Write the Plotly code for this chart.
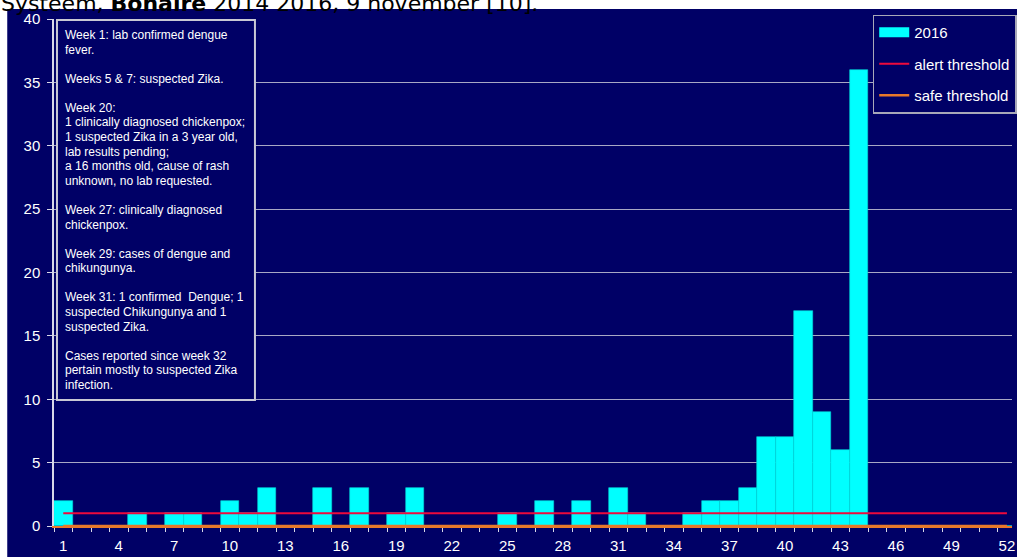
import plotly.graph_objects as go

# ---------------- data ----------------
weeks = [1, 2, 3, 4, 5, 6, 7, 8, 9, 10, 11, 12, 13, 14, 15, 16, 17, 18, 19, 20,
         21, 22, 23, 24, 25, 26, 27, 28, 29, 30, 31, 32, 33, 34, 35, 36, 37, 38, 39, 40,
         41, 42, 43, 44, 45, 46, 47, 48, 49, 50, 51, 52]
cases_2016 = [2, 0, 0, 0, 1, 0, 1, 1, 0, 2,
              1, 3, 0, 0, 3, 0, 3, 0, 1, 3,
              0, 0, 0, 0, 1, 0, 2, 0, 2, 0,
              3, 1, 0, 0, 1, 2, 2, 3, 7, 7,
              17, 9, 6, 36, 0, 0, 0, 0, 0, 0,
              0, 0]
alert_threshold = [1, 1, 1, 1, 1, 1, 1, 1, 1, 1, 1, 1, 1, 1, 1, 1, 1, 1, 1, 1,
                   1, 1, 1, 1, 1, 1, 1, 1, 1, 1, 1, 1, 1, 1, 1, 1, 1, 1, 1, 1,
                   1, 1, 1, 1, 1, 1, 1, 1, 1, 1, 1, 1]
safe_threshold = [0, 0, 0, 0, 0, 0, 0, 0, 0, 0, 0, 0, 0, 0, 0, 0, 0, 0, 0, 0,
                  0, 0, 0, 0, 0, 0, 0, 0, 0, 0, 0, 0, 0, 0, 0, 0, 0, 0, 0, 0,
                  0, 0, 0, 0, 0, 0, 0, 0, 0, 0, 0, 0]
y_ticks = [0, 5, 10, 15, 20, 25, 30, 35, 40]
x_tick_labels = [1, 4, 7, 10, 13, 16, 19, 22, 25, 28, 31, 34, 37, 40, 43, 46, 49, 52]
series_names = ["2016", "alert threshold", "safe threshold"]
page_title_plain = "Systeem, "
page_title_bold = "Bonaire"
page_title_rest = " 2014 2016, 9 november [10]."
note_lines = [
    "Week 1: lab confirmed dengue",
    "fever.",
    "",
    "Weeks 5 &amp; 7: suspected Zika.",
    "",
    "Week 20:",
    "1 clinically diagnosed chickenpox;",
    "1 suspected Zika in a 3 year old,",
    "lab results pending;",
    "a 16 months old, cause of rash",
    "unknown, no lab requested.",
    "",
    "Week 27: clinically diagnosed",
    "chickenpox.",
    "",
    "Week 29: cases of dengue and",
    "chikungunya.",
    "",
    "Week 31: 1 confirmed &nbsp;Dengue; 1",
    "suspected Chikungunya and 1",
    "suspected Zika.",
    "",
    "Cases reported since week 32",
    "pertain mostly to suspected Zika",
    "infection.",
]

# ---------------- geometry helpers ----------------
W, H = 1017, 557
PL, PR, PT, PB = 54, 1017, 19, 526


def px_x(x):
    return (x - PL) / (PR - PL)


def px_y(y):
    return (PB - y) / (PB - PT)


NAVY = "#000066"
CYAN = "#00FFFF"
RED = "#EE0A3C"
ORANGE = "#E8782A"
AXIS = "#D8D8E8"
GRID = "#A8A8C4"
FONT = "Liberation Sans, Arial, sans-serif"

fig = go.Figure()

fig.add_trace(go.Bar(
    x=weeks, y=cases_2016, name=series_names[0],
    marker=dict(color=CYAN, line=dict(color="#00D8D8", width=0.6)),
    showlegend=False,
))
# legend proxy for the wide cyan key
fig.add_trace(go.Scatter(
    x=[None], y=[None], mode="lines", name=series_names[0],
    line=dict(color=CYAN, width=12), legendgroup="a",
))
fig.add_trace(go.Scatter(
    x=weeks, y=alert_threshold, mode="lines", name=series_names[1],
    line=dict(color=RED, width=2), legendgroup="b",
))
fig.add_trace(go.Scatter(
    x=weeks, y=safe_threshold, mode="lines", name=series_names[2],
    line=dict(color=ORANGE, width=2.5), legendgroup="c",
))

shapes = [
    # navy chart area
    dict(type="rect", xref="paper", yref="paper",
         x0=px_x(7), x1=px_x(1030), y0=px_y(570), y1=px_y(9),
         fillcolor=NAVY, line=dict(width=0), layer="below"),
    # note box
    dict(type="rect", xref="paper", yref="paper",
         x0=px_x(57), x1=px_x(256), y0=px_y(400), y1=px_y(20),
         fillcolor=NAVY, line=dict(color="#C8C8D4", width=2), layer="above"),
]

annotations = [
    dict(text=page_title_plain + "<b>" + page_title_bold + "</b>" + page_title_rest,
         xref="paper", yref="paper", x=px_x(-1), y=px_y(18),
         xanchor="left", yanchor="bottom", showarrow=False, align="left",
         font=dict(family="DejaVu Sans, Verdana, sans-serif", size=22, color="#000000")),
]
LINE_STEP = 14.58
for i, line in enumerate(note_lines):
    if not line:
        continue
    annotations.append(dict(
        text=line, xref="paper", yref="paper",
        x=px_x(63), y=px_y(35 + i * LINE_STEP),
        xanchor="left", yanchor="middle", showarrow=False, align="left",
        font=dict(family=FONT, size=12, color="#FFFFFF"),
    ))

fig.update_layout(
    width=W, height=H, autosize=False,
    margin=dict(l=PL, r=W - PR, t=PT, b=H - PB, pad=0),
    paper_bgcolor="#FFFFFF", plot_bgcolor=NAVY,
    bargap=0,
    font=dict(family=FONT, color="#FFFFFF", size=14),
    shapes=shapes, annotations=annotations,
    showlegend=True,
    legend=dict(
        x=px_x(877), y=px_y(14.5), xanchor="left", yanchor="top",
        bgcolor=NAVY, bordercolor="#A8A8B8", borderwidth=1.5,
        font=dict(family=FONT, size=15, color="#FFFFFF"),
        tracegroupgap=9, traceorder="grouped",
    ),
    xaxis=dict(
        range=[0.5, 0.5 + (PR - PL) / 18.6],
        tickmode="array", tickvals=x_tick_labels,
        ticktext=[str(v) for v in x_tick_labels],
        ticks="", showgrid=False, zeroline=False,
        showline=True, linecolor=ORANGE, linewidth=2,
        tickfont=dict(family=FONT, size=15, color="#FFFFFF"),
        ticklabeloverflow="allow", ticklabelstandoff=5,
        minor=dict(tick0=0.5, dtick=1, ticks="outside", ticklen=4,
                   tickcolor=AXIS, tickwidth=1, showgrid=False),
        fixedrange=True,
    ),
    yaxis=dict(
        range=[0, 40], tickmode="array", tickvals=y_ticks,
        ticks="outside", ticklen=5, tickcolor=AXIS, tickwidth=1,
        showline=True, linecolor=AXIS, linewidth=1.5,
        showgrid=True, gridcolor=GRID, gridwidth=1,
        zeroline=False, ticklabelstandoff=4,
        tickfont=dict(family=FONT, size=15, color="#FFFFFF"),
        fixedrange=True,
    ),
)

fig.write_html(
    "out.html",
    config={"displayModeBar": False},
    post_script="document.body.style.margin='0';document.body.style.overflow='hidden';",
)
